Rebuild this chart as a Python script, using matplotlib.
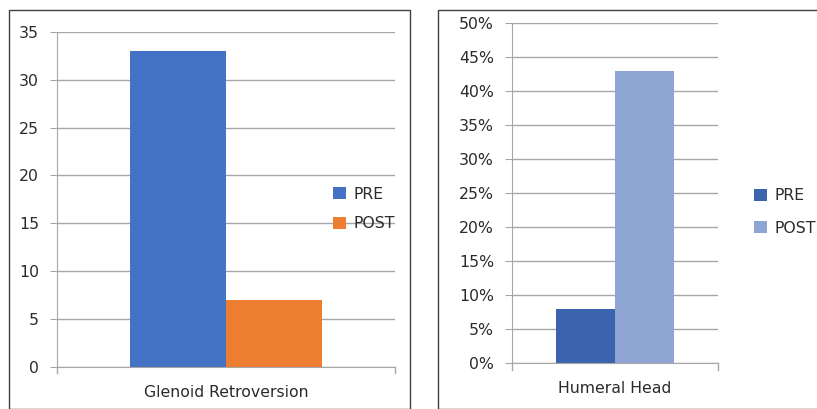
import matplotlib.pyplot as plt
from matplotlib.patches import Rectangle
from matplotlib.ticker import FuncFormatter

# Data
series = ["PRE", "POST"]
glenoid_category = "Glenoid Retroversion"
glenoid_values = [33, 7]
humeral_category = "Humeral Head"
humeral_values = [0.08, 0.43]

W, H = 817, 409
fig = plt.figure(figsize=(W / 100, H / 100), dpi=100)
plt.rcParams['font.family'] = ['DejaVu Sans']

grid_col = "#A6A6A6"
text_col = "#2B2B2B"
fs = 11.3


def px_axes(x0, y0, x1, y1):
    return fig.add_axes([x0 / W, 1 - y1 / H, (x1 - x0) / W, (y1 - y0) / H])


def style(ax):
    ax.set_facecolor("white")
    for s in ("top", "right"):
        ax.spines[s].set_visible(False)
    ax.spines["left"].set_color(grid_col)
    ax.spines["bottom"].set_color(grid_col)
    ax.yaxis.grid(True, color=grid_col, linewidth=1)
    ax.set_axisbelow(True)
    ax.tick_params(axis="y", length=5, color=grid_col, labelsize=fs,
                   labelcolor=text_col, pad=8)
    ax.tick_params(axis="x", length=0, labelsize=fs, labelcolor=text_col, pad=13)


# Panel frames
fig.patches.append(Rectangle((9 / W, 0), 401 / W, 1 - 10 / H, transform=fig.transFigure,
                             fill=False, edgecolor="#404040", linewidth=1))
fig.patches.append(Rectangle((438 / W, 0), 400 / W, 1 - 10 / H, transform=fig.transFigure,
                             fill=False, edgecolor="#404040", linewidth=1))

# Left chart
ax1 = px_axes(57, 32, 395, 366.7)
w1 = 0.284
cols1 = ["#4472C4", "#ED7D31"]
h1 = []
for i, (name, v) in enumerate(zip(series, glenoid_values)):
    h1.append(ax1.bar((i - 0.5) * w1, v, width=w1, color=cols1[i], label=name))
ax1.set_xlim(-0.5, 0.5)
ax1.set_ylim(0, 35)
ax1.set_yticks(range(0, 36, 5))
ax1.set_xticks([0])
ax1.set_xticklabels([glenoid_category])
style(ax1)
ax1.plot([1, 1], [0, -0.02], transform=ax1.transAxes, color=grid_col, clip_on=False, lw=1)
ax1.plot([0, 0], [0, -0.02], transform=ax1.transAxes, color=grid_col, clip_on=False, lw=1)
fig.legend(handles=h1, labels=series, loc="center left",
           bbox_to_anchor=(319 / W, 1 - 209 / H), frameon=False, fontsize=fs,
           handlelength=0.8, handleheight=0.8, handletextpad=0.5, labelspacing=0.9,
           labelcolor=text_col)

# Right chart
ax2 = px_axes(512, 23.3, 718, 363.3)
w2 = 0.286
cols2 = ["#3C64AE", "#8EA5D4"]
h2 = []
for i, (name, v) in enumerate(zip(series, humeral_values)):
    h2.append(ax2.bar((i - 0.5) * w2, v, width=w2, color=cols2[i], label=name))
ax2.set_xlim(-0.5, 0.5)
ax2.set_ylim(0, 0.5)
ax2.set_yticks([i / 100 for i in range(0, 51, 5)])
ax2.yaxis.set_major_formatter(FuncFormatter(lambda v, p: f"{round(v * 100)}%"))
ax2.set_xticks([0])
ax2.set_xticklabels([humeral_category])
style(ax2)
ax2.plot([1, 1], [0, -0.02], transform=ax2.transAxes, color=grid_col, clip_on=False, lw=1)
ax2.plot([0, 0], [0, -0.02], transform=ax2.transAxes, color=grid_col, clip_on=False, lw=1)
fig.legend(handles=h2, labels=series, loc="center left",
           bbox_to_anchor=(740 / W, 1 - 212 / H), frameon=False, fontsize=fs,
           handlelength=0.8, handleheight=0.8, handletextpad=0.5, labelspacing=1.1,
           labelcolor=text_col)

fig.savefig("out.png", dpi=100, facecolor="white")
